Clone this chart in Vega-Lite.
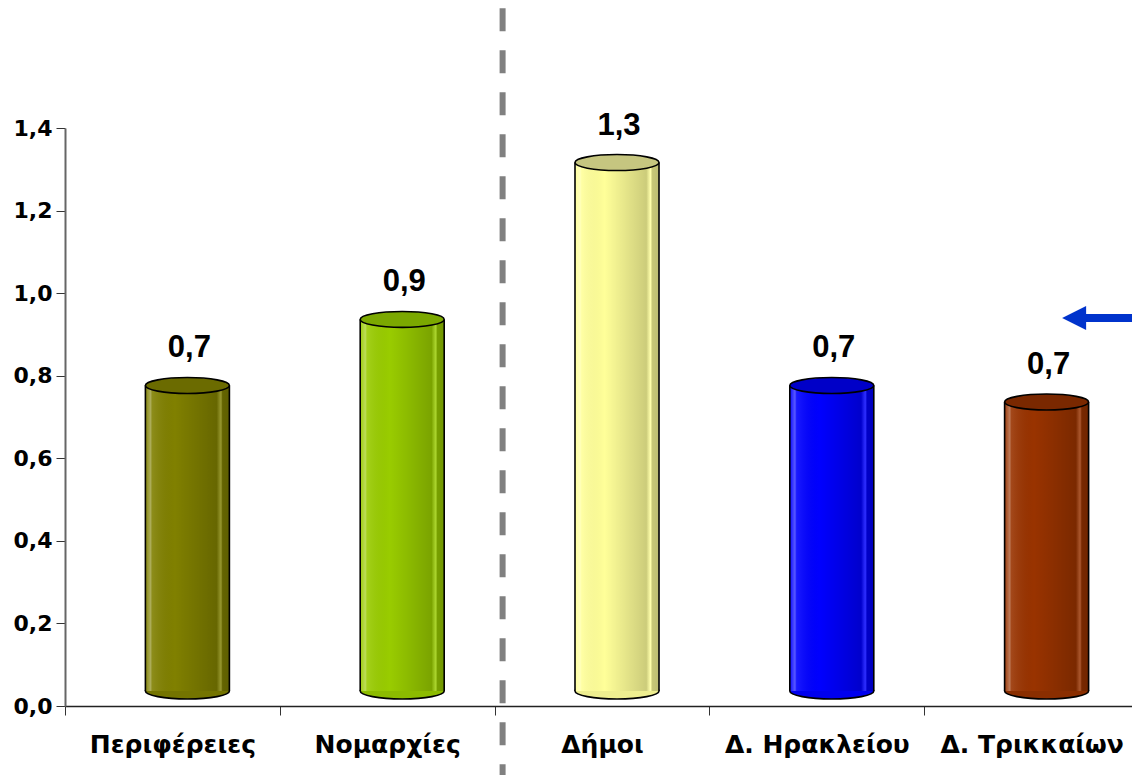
{
  "$schema": "https://vega.github.io/schema/vega-lite/v6.json",
  "width": 1074,
  "height": 578,
  "autosize": "none",
  "padding": {"left": 65, "top": 128, "right": 0, "bottom": 69},
  "background": "white",
  "config": {
    "view": {"stroke": null},
    "locale": {"number": {"decimal": ",", "thousands": ".", "grouping": [3], "currency": ["€", ""]}},
    "axis": {"labelFont": "DejaVu Sans", "labelFontWeight": "bold", "labelColor": "black"}
  },
  "data": {
    "values": [
      {"cat": "Περιφέρειες", "value": 0.74, "label": "0,7"},
      {"cat": "Νομαρχίες", "value": 0.90, "label": "0,9"},
      {"cat": "Δήμοι", "value": 1.28, "label": "1,3"},
      {"cat": "Δ. Ηρακλείου", "value": 0.74, "label": "0,7"},
      {"cat": "Δ. Τρικκαίων", "value": 0.70, "label": "0,7"}
    ]
  },
  "encoding": {
    "x": {
      "field": "cat", "type": "nominal",
      "scale": {"domain": ["Περιφέρειες", "Νομαρχίες", "Δήμοι", "Δ. Ηρακλείου", "Δ. Τρικκαίων"], "paddingInner": 0, "paddingOuter": 0},
      "axis": {"title": null, "labelAngle": 0, "labelFontSize": 25, "labelPadding": 17, "labelLimit": 400, "tickBand": "extent", "tickSize": 9, "tickColor": "#333333", "domainColor": "#222222", "domainWidth": 1.5, "labelOverlap": false}
    }
  },
  "layer": [
    {
      "mark": {"type": "point", "shape": "M-1,0A1,0.19,0,1,1,1,0A1,0.19,0,1,1,-1,0Z", "size": 7056, "filled": true, "opacity": 1, "stroke": "black", "strokeWidth": 1.6, "yOffset": -15, "xOffset": 15},
      "encoding": {
        "y": {"datum": 0, "type": "quantitative", "scale": {"domain": [0, 1.4], "nice": false}, "axis": {"title": null, "values": [0, 0.2, 0.4, 0.6, 0.8, 1.0, 1.2, 1.4], "format": ".1f", "labelFontSize": 22, "labelPadding": 4, "tickSize": 9, "tickColor": "#333333", "domainColor": "#666666", "domainWidth": 2, "gridColor": "#c8c8c8", "gridWidth": 1.2}},
        "fill": {"field": "cat", "type": "nominal", "legend": null, "scale": {"domain": ["Περιφέρειες", "Νομαρχίες", "Δήμοι", "Δ. Ηρακλείου", "Δ. Τρικκαίων"], "range": ["#747400", "#8cbb00", "#eeee90", "#0000ee", "#8a2e00"]}}
      }
    },
    {
      "mark": {"type": "bar", "width": {"band": 0.39}, "yOffset": -15, "y2Offset": -15, "xOffset": 15},
      "encoding": {
        "y": {"field": "value", "type": "quantitative"},
        "y2": {"datum": 0},
        "fill": {"field": "cat", "type": "nominal", "legend": null, "scale": {"domain": ["Περιφέρειες", "Νομαρχίες", "Δήμοι", "Δ. Ηρακλείου", "Δ. Τρικκαίων"], "range": ["#808000", "#99cc00", "#ffff99", "#0000ff", "#993300"]}}
      }
    },
    {
      "mark": {"type": "bar", "width": {"band": 0.39}, "yOffset": -15, "y2Offset": -15, "xOffset": 15,
        "fill": {"gradient": "linear", "x1": 0, "x2": 1, "y1": 0, "y2": 0, "stops": [
          {"offset": 0, "color": "rgba(255,255,255,0.05)"},
          {"offset": 0.06, "color": "rgba(255,255,255,0.35)"},
          {"offset": 0.08, "color": "rgba(255,255,255,0.1)"},
          {"offset": 0.35, "color": "rgba(0,0,0,0.0)"},
          {"offset": 0.85, "color": "rgba(0,0,0,0.2)"},
          {"offset": 0.9, "color": "rgba(255,255,255,0.18)"},
          {"offset": 0.92, "color": "rgba(0,0,0,0.22)"},
          {"offset": 1, "color": "rgba(0,0,0,0.26)"}
        ]}},
      "encoding": {
        "y": {"field": "value", "type": "quantitative"},
        "y2": {"datum": 0}
      }
    },
    {
      "mark": {"type": "rule", "color": "black", "strokeWidth": 1.6, "yOffset": -15, "y2Offset": -15, "xOffset": -27},
      "encoding": {
        "y": {"field": "value", "type": "quantitative"},
        "y2": {"datum": 0}
      }
    },
    {
      "mark": {"type": "rule", "color": "black", "strokeWidth": 1.6, "yOffset": -15, "y2Offset": -15, "xOffset": 57},
      "encoding": {
        "y": {"field": "value", "type": "quantitative"},
        "y2": {"datum": 0}
      }
    },
    {
      "mark": {"type": "point", "shape": "M-1,0A1,0.19,0,1,1,1,0A1,0.19,0,1,1,-1,0Z", "size": 7056, "filled": true, "opacity": 1, "stroke": "black", "strokeWidth": 1.6, "yOffset": -15, "xOffset": 15},
      "encoding": {
        "y": {"field": "value", "type": "quantitative"},
        "fill": {"field": "cat", "type": "nominal", "legend": null, "scale": {"domain": ["Περιφέρειες", "Νομαρχίες", "Δήμοι", "Δ. Ηρακλείου", "Δ. Τρικκαίων"], "range": ["#6b6b00", "#7ba800", "#c6c680", "#0000c8", "#7a2800"]}}
      }
    },
    {
      "mark": {"type": "text", "font": "Liberation Sans", "fontWeight": "bold", "fontSize": 31, "color": "black", "baseline": "alphabetic", "dy": -43, "dx": 17},
      "encoding": {
        "y": {"field": "value", "type": "quantitative"},
        "text": {"field": "label"}
      }
    },
    {
      "data": {"values": [{"cat": "Δήμοι", "top": 1.69, "bottom": -0.2}]},
      "mark": {"type": "rule", "color": "#808080", "strokeWidth": 6, "strokeDash": [23, 19], "xOffset": 8},
      "encoding": {
        "x": {"field": "cat", "type": "nominal", "bandPosition": 0},
        "y": {"field": "top", "type": "quantitative"},
        "y2": {"field": "bottom"}
      }
    },
    {
      "data": {"values": [{"cat": "Δ. Τρικκαίων", "level": 0.94}]},
      "mark": {"type": "rule", "color": "#0033cc", "strokeWidth": 8, "xOffset": 52, "x2Offset": 120},
      "encoding": {
        "x": {"field": "cat", "type": "nominal"},
        "x2": {"field": "cat"},
        "y": {"field": "level", "type": "quantitative"}
      }
    },
    {
      "data": {"values": [{"cat": "Δ. Τρικκαίων", "level": 0.94}]},
      "mark": {"type": "point", "shape": "M-1,0L1,-1L1,1Z", "size": 576, "filled": true, "opacity": 1, "color": "#0033cc", "xOffset": 42.5},
      "encoding": {
        "x": {"field": "cat", "type": "nominal"},
        "y": {"field": "level", "type": "quantitative"}
      }
    }
  ],
  "resolve": {"scale": {"fill": "independent"}}
}
